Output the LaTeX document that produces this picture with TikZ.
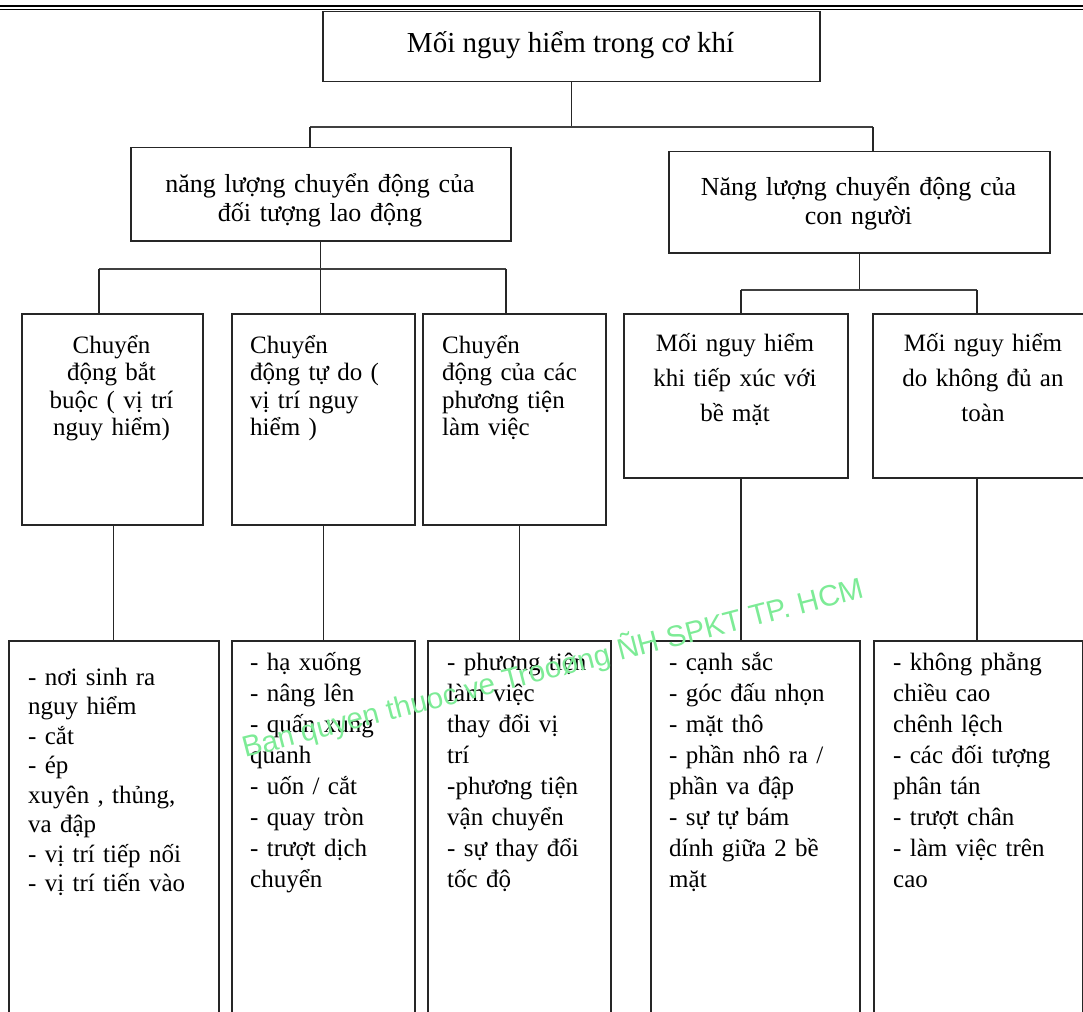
\documentclass[tikz,border=0pt]{standalone}
\usepackage{fontspec}
\setmainfont{Liberation Serif}
\newfontfamily\wmfont{Liberation Sans}
\usetikzlibrary{positioning, calc}
\definecolor{wmgreen}{RGB}{125,235,150}

\begin{document}
\begin{tikzpicture}[
    x=1pt, y=-1pt,
    box/.style={draw=black!85, line width=1.5pt, inner sep=0pt, anchor=north west},
    link/.style={draw=black!85, line width=1.4pt},
    bar/.style={draw=black!75, line width=2.2pt},
    title/.style={font=\fontsize{29}{33}\selectfont, inner sep=0pt, anchor=base},
    head/.style={font=\fontsize{26}{29}\selectfont, inner sep=0pt, text width=370pt, align=center, anchor=base},
    kind/.style={font=\fontsize{25}{27.5}\selectfont, inner sep=0pt, text width=175pt, align=left, anchor=base west},
    risk/.style={font=\fontsize{25}{35}\selectfont, inner sep=0pt, text width=215pt, align=center, anchor=base},
    item/.style={font=\fontsize{25}{31}\selectfont, inner sep=0pt, text width=200pt, align=left, anchor=base west},
    wmark/.style={font=\wmfont\fontsize{29.5}{32}\selectfont, text=wmgreen, rotate=14.5, inner sep=0pt, anchor=base west},
  ]
    \useasboundingbox (0,0) rectangle (1083,1011);
    \clip (0,0) rectangle (1083,1011);

    % page header rule
    \draw[line width=2.6pt] (0,6) -- (1083,6);
    \draw[line width=1pt] (0,10) -- (1083,10);

    % root
    \node[box, minimum width=497pt, minimum height=70pt] (top) at (322,11) {};
    \node[title] (top-t) at (570.5,53) {Mối nguy hiểm trong cơ khí};

    % level 1
    \node[box, minimum width=380pt, minimum height=93pt] (obj) at (130,147) {};
    \node[head] (obj-t) at (320,192) {năng lượng chuyển động của\\đối tượng lao động};
    \node[box, minimum width=381pt, minimum height=101pt] (hum) at (668,151) {};
    \node[head] (hum-t) at (858.5,195) {Năng lượng chuyển động của\\con người};

    % level 2
    \node[box, minimum width=181pt, minimum height=211pt] (forced) at (21,313) {};
    \node[kind, align=center, anchor=base] (forced-t) at (111.5,353) {Chuyển\\động bắt\\buộc ( vị trí\\nguy hiểm)};
    \node[box, minimum width=183pt, minimum height=211pt] (free) at (231,313) {};
    \node[kind] (free-t) at (250,353) {Chuyển\\động tự do (\\vị trí nguy\\hiểm )};
    \node[box, minimum width=183pt, minimum height=211pt] (tool) at (422,313) {};
    \node[kind] (tool-t) at (442,353) {Chuyển\\động của các\\phương tiện\\làm việc};
    \node[box, minimum width=224pt, minimum height=164pt] (touch) at (623,313) {};
    \node[risk] (touch-t) at (735,351) {Mối nguy hiểm\\khi tiếp xúc với\\bề mặt};
    \node[box, minimum width=222pt, minimum height=164pt] (unsafe) at (872,313) {};
    \node[risk] (unsafe-t) at (983,351) {Mối nguy hiểm\\do không đủ an\\toàn};

    % level 3
    \node[box, minimum width=210pt, minimum height=420pt] (forced-l) at (8,640) {};
    \node[item, font=\fontsize{25}{29.5}\selectfont] (forced-i) at (28,685) {- nơi sinh ra\\nguy hiểm\\- cắt\\- ép\\xuyên , thủng,\\va đập\\- vị trí tiếp nối\\- vị trí tiến vào};
    \node[box, minimum width=183pt, minimum height=420pt] (free-l) at (231,640) {};
    \node[item] (free-i) at (250,670) {- hạ xuống\\- nâng lên\\- quấn xung\\quanh\\- uốn / cắt\\- quay tròn\\- trượt dịch\\chuyển};
    \node[box, minimum width=183pt, minimum height=420pt] (tool-l) at (427,640) {};
    \node[item] (tool-i) at (447,670) {- phương tiện\\làm việc\\thay đổi vị\\trí\\-phương tiện\\vận chuyển\\- sự thay đổi\\tốc độ};
    \node[box, minimum width=209pt, minimum height=420pt] (touch-l) at (650,640) {};
    \node[item] (touch-i) at (669,670) {- cạnh sắc\\- góc đấu nhọn\\- mặt thô\\- phần nhô ra /\\phần va đập\\- sự tự bám\\dính giữa 2 bề\\mặt};
    \node[box, minimum width=209pt, minimum height=420pt] (unsafe-l) at (873,640) {};
    \node[item] (unsafe-i) at (893,670) {- không phẳng\\chiều cao\\chênh lệch\\- các đối tượng\\phân tán\\- trượt chân\\- làm việc trên\\cao};

    % connectors
    \coordinate (lft) at (310,127);
    \coordinate (rgt) at (873,127);
    \coordinate (objL) at (99,269);
    \coordinate (objR) at (506,269);
    \coordinate (humL) at (741,290);
    \coordinate (humR) at (977,290);

    \draw[link] (top.south) -- (top.south |- lft);
    \draw[bar] (lft) -- (rgt);
    \draw[link] (lft) -- (lft |- obj.north);
    \draw[link] (rgt) -- (rgt |- hum.north);

    \draw[link] (obj.south) -- (obj.south |- objL);
    \draw[bar] (objL) -- (objR);
    \draw[link] (objL) -- (objL |- forced.north);
    \draw[link] (obj.south |- objL) -- (obj.south |- free.north);
    \draw[link] (objR) -- (objR |- tool.north);

    \draw[link] (hum.south) -- (hum.south |- humL);
    \draw[bar] (humL) -- (humR);
    \draw[link] (humL) -- (humL |- touch.north);
    \draw[link] (humR) -- (humR |- unsafe.north);

    \draw[link] (forced-l.north |- forced.south) -- (forced-l.north);
    \draw[link] (free-l.north |- free.south) -- (free-l.north);
    \draw[link] (tool-l.north |- tool.south) -- (tool-l.north);
    \draw[link] (humL |- touch.south) -- (humL |- touch-l.north);
    \draw[link] (humR |- unsafe.south) -- (humR |- unsafe-l.north);

    % watermark
    \node[wmark] (wm) at (245,758) {Ban quyen thuoc ve Trooøng ÑH SPKT TP. HCM};
\end{tikzpicture}
\end{document}
